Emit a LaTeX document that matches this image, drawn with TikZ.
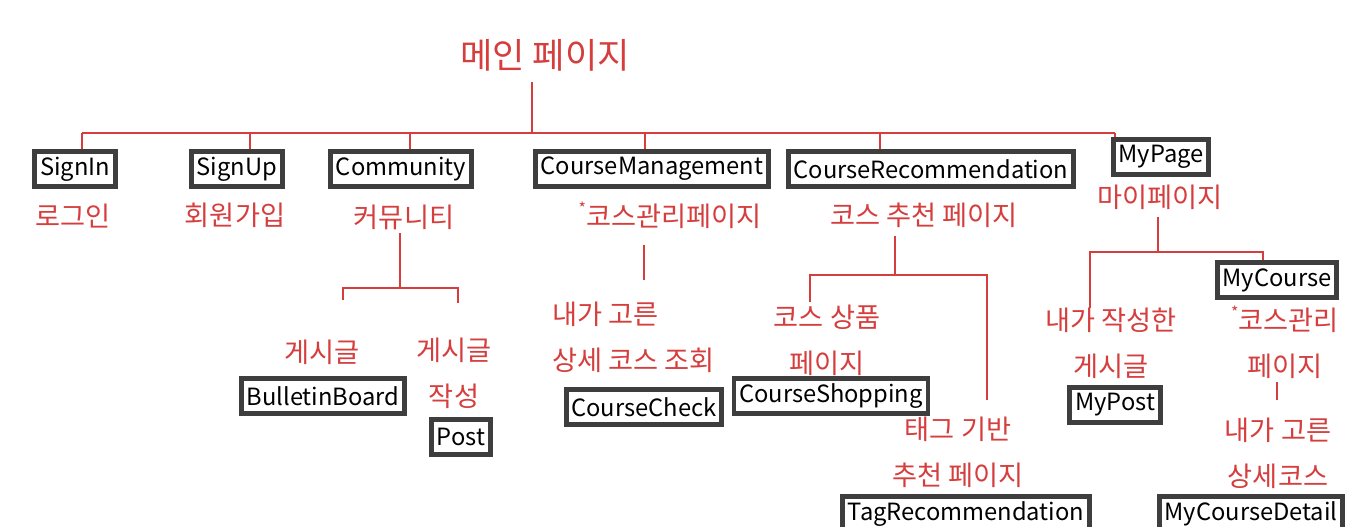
\documentclass[tikz,border=0pt]{standalone}
\usepackage{fontspec}
\setmainfont{Noto Sans CJK KR}

\definecolor{pen}{RGB}{214,62,62}
\definecolor{frame}{RGB}{62,62,62}

\begin{document}
\begin{tikzpicture}[
  x=0.02cm, y=-0.02cm,
  page/.style={draw=frame, line width=2.8pt, fill=white, inner xsep=3pt, inner ysep=1pt,
    minimum height=20pt, font=\fontsize{13.5}{16}\selectfont},
  note/.style={text=pen, align=center, inner sep=0pt, font=\fontsize{15.5}{26}\selectfont},
  link/.style={draw=pen, line width=1.1pt}
]
  \useasboundingbox (0,0) rectangle (1355,527);
  \clip (0,0) rectangle (1355,527);
  \fill[white] (0,0) rectangle (1355,527);

  % Root
  \node[note, font=\fontsize{20}{24}\selectfont] (main) at (545,55) {메인 페이지};

  % First level
  \node[page] (signin) at (75,169) {SignIn};
  \node[page] (signup) at (237,169) {SignUp};
  \node[page] (community) at (401,169) {Community};
  \node[page] (manage) at (652,169) {CourseManagement};
  \node[page] (recommend) at (931,169) {CourseRecommendation};
  \node[page] (mypage) at (1161,157) {MyPage};

  \node[note] (signinTxt) at (73,216) {로그인};
  \node[note] (signupTxt) at (235,215) {회원가입};
  \node[note] (communityTxt) at (404,217) {커뮤니티};
  \node[note] (manageTxt) at (670,215) {\raisebox{0.45em}{\small*}코스관리페이지};
  \node[note] (recommendTxt) at (924,215) {코스 추천 페이지};
  \node[note] (mypageTxt) at (1160,197) {마이페이지};

  % Second level
  \node[page] (board) at (323,396) {BulletinBoard};
  \node[page] (post) at (461,437) {Post};
  \node[page] (check) at (644,407) {CourseCheck};
  \node[page] (shop) at (831,396) {CourseShopping};
  \node[page] (tag) at (966,514) {TagRecommendation};
  \node[page] (mycourse) at (1277,280) {MyCourse};
  \node[page] (mypost) at (1115,405) {MyPost};
  \node[page] (detail) at (1251,514) {MyCourseDetail};

  \node[note] (boardTxt) at (322,352) {게시글};
  \node[note] (postTxt) at (454,373) {게시글\\작성};
  \node[note, align=left, anchor=west] (checkTxt) at (552,337) {내가 고른\\상세 코스 조회};
  \node[note] (shopTxt) at (827,340) {코스 상품\\페이지};
  \node[note] (tagTxt) at (958,452) {태그 기반\\추천 페이지};
  \node[note] (mypostTxt) at (1111,343) {내가 작성한\\게시글};
  \node[note] (mycourseTxt) at (1285,342) {\raisebox{0.45em}{\small*}코스관리\\페이지};
  \node[note] (detailTxt) at (1278,453) {내가 고른\\상세코스};

  % Main bus
  \coordinate (bus) at (532,133);
  \draw[link, shorten <=6pt] (bus |- main.south) -- (bus);
  \draw[link] (82,133) -- (1115,133);
  \foreach \n/\x in {signin/82, signup/250, community/410, manage/645, recommend/880, mypage/1115} {
    \coordinate (t-\n) at (\x,133);
    \draw[link] (t-\n) -- (t-\n |- \n.north);
  }

  % Community branch
  \coordinate (cbr) at (400,288);
  \coordinate (cL) at (343,300);
  \coordinate (cR) at (458,303);
  \draw[link, shorten <=2pt] (cbr |- communityTxt.south) -- (cbr);
  \draw[link] (cL) |- (cbr) -| (cR);

  % Course management branch
  \draw[link, shorten <=9pt, shorten >=12pt] (check |- manageTxt.south) -- (check |- checkTxt.north);

  % Recommendation branch
  \coordinate (rbr) at (895,275);
  \coordinate (rL) at (810,302);
  \coordinate (rR) at (987,400);
  \draw[link, shorten <=5pt] (rbr |- recommendTxt.south) -- (rbr);
  \draw[link] (rL) |- (rbr) -| (rR);

  % My page branch
  \coordinate (pbr) at (1158,252);
  \coordinate (pL) at (1090,308);
  \coordinate (pR) at (1263,252);
  \draw[link, shorten <=4pt] (pbr |- mypageTxt.south) -- (pbr);
  \draw[link] (pL) |- (pbr) -- (pR) -- (pR |- mycourse.north);
  \draw[link, shorten <=2pt, shorten >=10pt] (mycourse |- mycourseTxt.south) -- (mycourse |- detailTxt.north);

\end{tikzpicture}
\end{document}
